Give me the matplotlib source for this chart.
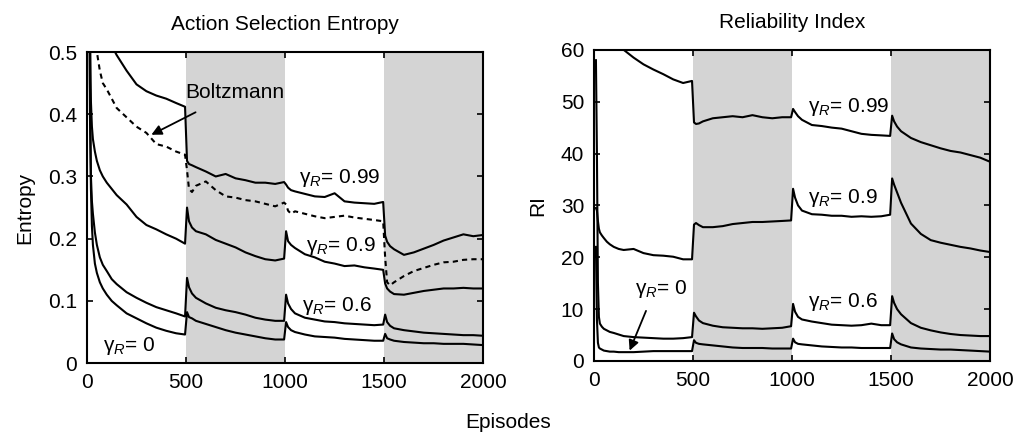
import numpy as np
import matplotlib
matplotlib.use("Agg")
import matplotlib.pyplot as plt

plt.rcParams['font.family'] = ['Liberation Sans', 'DejaVu Sans']
plt.rcParams['mathtext.fontset'] = 'custom'
plt.rcParams['mathtext.rm'] = 'Liberation Sans'
plt.rcParams['mathtext.it'] = 'Liberation Sans:italic'

episodes = [10, 15, 20, 25, 30, 40, 50, 65, 80, 100, 125, 150, 200, 250, 300, 350, 400, 450, 495,
            505, 515, 530, 550, 600, 650, 700, 750, 800, 850, 900, 950, 995,
            1005, 1015, 1030, 1050, 1100, 1150, 1200, 1250, 1300, 1350, 1400, 1450, 1495,
            1505, 1515, 1530, 1550, 1600, 1650, 1700, 1750, 1800, 1850, 1900, 1950, 2000]

# action selection entropy
ent_099 = [0.75, 0.72, 0.70, 0.68, 0.66, 0.63, 0.60, 0.58, 0.56, 0.535, 0.51, 0.495, 0.47, 0.448, 0.437, 0.43, 0.425, 0.418, 0.412,
           0.325, 0.32, 0.318, 0.315, 0.308, 0.30, 0.304, 0.297, 0.294, 0.29, 0.29, 0.288, 0.291,
           0.287, 0.282, 0.278, 0.276, 0.272, 0.268, 0.267, 0.273, 0.26, 0.258, 0.257, 0.256, 0.259,
           0.205, 0.195, 0.188, 0.183, 0.174, 0.178, 0.184, 0.19, 0.197, 0.202, 0.207, 0.204, 0.206]
ent_boltz = [0.90, 0.82, 0.75, 0.68, 0.62, 0.54, 0.50, 0.47, 0.45, 0.44, 0.425, 0.41, 0.395, 0.38, 0.37, 0.352, 0.348, 0.34, 0.335,
             0.31, 0.28, 0.275, 0.285, 0.292, 0.278, 0.268, 0.266, 0.262, 0.26, 0.256, 0.252, 0.258,
             0.255, 0.245, 0.24, 0.244, 0.24, 0.236, 0.233, 0.235, 0.237, 0.234, 0.232, 0.23, 0.228,
             0.17, 0.13, 0.125, 0.13, 0.14, 0.148, 0.153, 0.158, 0.162, 0.163, 0.166, 0.167, 0.167]
ent_09 = [0.90, 0.55, 0.42, 0.38, 0.36, 0.34, 0.325, 0.31, 0.30, 0.29, 0.28, 0.27, 0.255, 0.235, 0.222, 0.215, 0.207, 0.20, 0.192,
          0.25, 0.228, 0.218, 0.212, 0.207, 0.198, 0.192, 0.186, 0.178, 0.172, 0.167, 0.165, 0.168,
          0.212, 0.196, 0.19, 0.185, 0.175, 0.17, 0.163, 0.16, 0.156, 0.157, 0.154, 0.152, 0.15,
          0.128, 0.12, 0.115, 0.111, 0.11, 0.113, 0.116, 0.118, 0.12, 0.12, 0.121, 0.12, 0.12]
ent_06 = [0.90, 0.45, 0.30, 0.26, 0.24, 0.21, 0.19, 0.17, 0.158, 0.148, 0.135, 0.127, 0.114, 0.105, 0.097, 0.09, 0.085, 0.08, 0.075,
          0.137, 0.122, 0.112, 0.105, 0.096, 0.089, 0.085, 0.082, 0.078, 0.073, 0.07, 0.068, 0.068,
          0.11, 0.096, 0.087, 0.08, 0.073, 0.07, 0.067, 0.066, 0.064, 0.063, 0.062, 0.061, 0.062,
          0.078, 0.066, 0.06, 0.056, 0.053, 0.051, 0.049, 0.048, 0.047, 0.046, 0.045, 0.045, 0.044]
ent_0 = [0.80, 0.40, 0.28, 0.22, 0.19, 0.16, 0.145, 0.13, 0.12, 0.11, 0.10, 0.093, 0.08, 0.072, 0.064, 0.057, 0.052, 0.048, 0.046,
         0.082, 0.074, 0.072, 0.068, 0.063, 0.058, 0.053, 0.049, 0.046, 0.043, 0.04, 0.038, 0.038,
         0.066, 0.058, 0.053, 0.05, 0.046, 0.043, 0.042, 0.041, 0.039, 0.038, 0.037, 0.036, 0.036,
         0.047, 0.04, 0.038, 0.036, 0.034, 0.033, 0.032, 0.032, 0.031, 0.031, 0.031, 0.03, 0.029]

# reliability index
ri_099 = [80, 78, 76, 75, 74, 72, 70, 68, 66, 64, 61.5, 60, 58.5, 57.2, 56.2, 55.3, 54.3, 53.6, 54,
          46, 45.7, 45.8, 46.2, 46.8, 47, 47.2, 47, 47.4, 47, 46.8, 47, 47,
          48.6, 48, 47.2, 46.5, 45.5, 45.3, 45, 44.8, 44.3, 43.8, 43.6, 43.5, 43.4,
          47.3, 46.2, 45.2, 44.3, 43, 42.2, 41.6, 41, 40.5, 40.2, 39.7, 39.2, 38.4]
ri_09 = [29.5, 29, 27, 25.5, 24.8, 24.2, 23.7, 23, 22.5, 22, 21.6, 21.4, 21.6, 20.8, 20.4, 20.3, 20.1, 19.6, 19.6,
         26.3, 26.6, 26.2, 25.8, 25.8, 26, 26.4, 26.6, 26.8, 26.8, 26.9, 27, 27.1,
         33.2, 31.5, 30, 29, 28.3, 28.2, 28, 28, 27.8, 27.9, 27.8, 27.9, 28.2,
         35.2, 34, 32.5, 30.5, 26.5, 24.5, 23.3, 22.8, 22.4, 22, 21.7, 21.3, 21]
ri_06 = [58, 40, 15, 8.5, 7.2, 6.6, 6.2, 5.9, 5.6, 5.4, 5.1, 4.8, 4.6, 4.5, 4.4, 4.3, 4.3, 4.4, 4.6,
         9.3, 8.6, 7.8, 7.3, 6.8, 6.5, 6.4, 6.3, 6.3, 6.2, 6.3, 6.4, 6.7,
         11, 9.5, 8.5, 8, 7.6, 7.3, 7.0, 6.9, 6.8, 6.9, 7.2, 6.9, 6.9,
         12.5, 11.2, 10, 9, 7.3, 6.4, 5.9, 5.5, 5.2, 5.0, 4.9, 4.8, 4.8]
ri_0 = [22, 8, 3.5, 2.6, 2.4, 2.2, 2.0, 1.9, 1.8, 1.8, 1.7, 1.7, 1.7, 1.8, 1.9, 1.9, 1.9, 1.9, 1.9,
        4.0, 3.5, 3.3, 3.2, 3.0, 2.8, 2.6, 2.5, 2.5, 2.5, 2.4, 2.4, 2.4,
        4.3, 3.6, 3.3, 3.2, 3.0, 2.8, 2.7, 2.6, 2.6, 2.5, 2.5, 2.5, 2.5,
        5.3, 4.2, 3.6, 3.2, 2.6, 2.4, 2.3, 2.2, 2.2, 2.1, 2.0, 1.9, 1.8]

shaded = [(500, 1000), (1500, 2000)]

fig = plt.figure(figsize=(10.16, 4.37), dpi=100)
ax1 = fig.add_axes([0.0856, 0.169, 0.390, 0.712])
ax2 = fig.add_axes([0.5846, 0.174, 0.390, 0.712])

fs = 15


def style(ax, ymax, yticks):
    for a, b in shaded:
        ax.axvspan(a, b, color='#d4d4d4', lw=0, zorder=0)
    ax.set_xlim(0, 2000)
    ax.set_ylim(0, ymax)
    ax.set_xticks([0, 500, 1000, 1500, 2000])
    ax.set_yticks(yticks)
    ax.tick_params(direction='in', length=4, width=1.2, top=True, right=True,
                   labelsize=fs, pad=7)
    for s in ax.spines.values():
        s.set_linewidth(1.5)


style(ax1, 0.5, [0, 0.1, 0.2, 0.3, 0.4, 0.5])
ax1.set_yticklabels(['0', '0.1', '0.2', '0.3', '0.4', '0.5'])
kw = dict(color='black', lw=1.5)
ax1.plot(episodes, ent_099, **kw)
ax1.plot(episodes, ent_boltz, ls=(0, (2.5, 2.0)), **kw)
ax1.plot(episodes, ent_09, **kw)
ax1.plot(episodes, ent_06, **kw)
ax1.plot(episodes, ent_0, **kw)
ax1.set_title('Action Selection Entropy', fontsize=fs, pad=16)
ax1.set_ylabel('Entropy', fontsize=fs, labelpad=10)

ax1.annotate('Boltzmann', xy=(325, 0.367), xytext=(745, 0.435), fontsize=fs,
             ha='center', va='center',
             arrowprops=dict(arrowstyle='-|>', color='black', lw=1.3,
                             mutation_scale=15, shrinkA=12, shrinkB=0))
ax1.text(1070, 0.298, r'$\mathrm{\gamma}_R$= 0.99', fontsize=fs, va='center')
ax1.text(1105, 0.188, r'$\mathrm{\gamma}_R$= 0.9', fontsize=fs, va='center')
ax1.text(1085, 0.092, r'$\mathrm{\gamma}_R$= 0.6', fontsize=fs, va='center')
ax1.text(80, 0.028, r'$\mathrm{\gamma}_R$= 0', fontsize=fs, va='center')

style(ax2, 60, [0, 10, 20, 30, 40, 50, 60])
ax2.plot(episodes, ri_099, **kw)
ax2.plot(episodes, ri_09, **kw)
ax2.plot(episodes, ri_06, **kw)
ax2.plot(episodes, ri_0, **kw)
ax2.set_title('Reliability Index', fontsize=fs, pad=16)
ax2.set_ylabel('RI', fontsize=fs, labelpad=10)

ax2.text(1080, 49.0, r'$\mathrm{\gamma}_R$= 0.99', fontsize=fs, va='center')
ax2.text(1080, 31.4, r'$\mathrm{\gamma}_R$= 0.9', fontsize=fs, va='center')
ax2.text(1080, 11.3, r'$\mathrm{\gamma}_R$= 0.6', fontsize=fs, va='center')
ax2.annotate(r'$\mathrm{\gamma}_R$= 0', xy=(180, 2.0), xytext=(205, 13.8), fontsize=fs,
             va='center', ha='left',
             arrowprops=dict(arrowstyle='-|>', color='black', lw=1.3,
                             mutation_scale=15, shrinkA=6, shrinkB=0,
                             relpos=(0.3, 0.0)))

fig.text(0.5, 0.02, 'Episodes', fontsize=fs, ha='center')

fig.savefig('out.png', dpi=100)
